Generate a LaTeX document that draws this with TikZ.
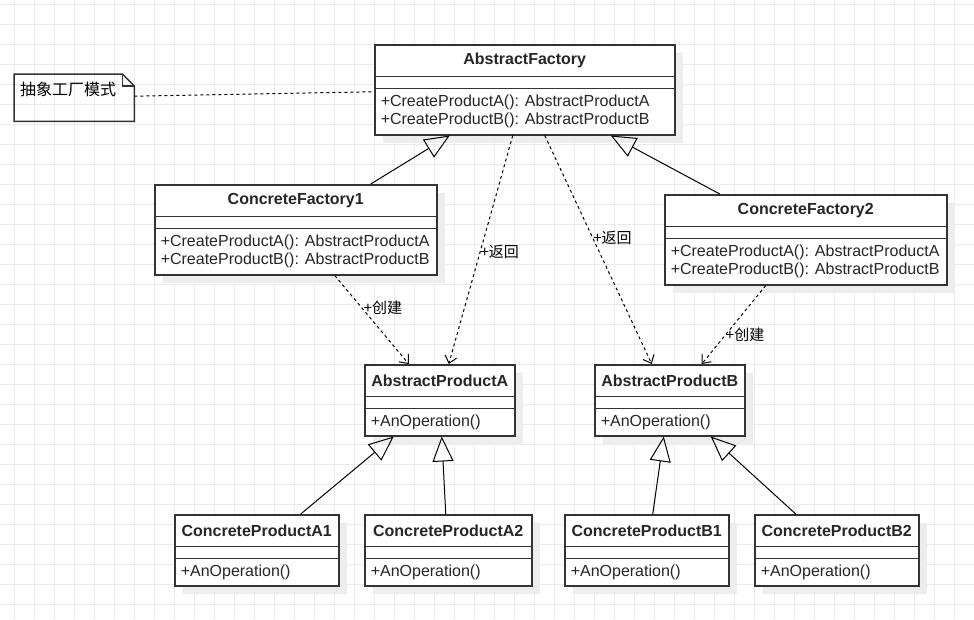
\documentclass[tikz,border=0pt]{standalone}
\usepackage{fontspec}
\setmainfont{Liberation Sans}
\newfontfamily\cjk{Noto Sans CJK SC}
\usepackage{tikz}
\usetikzlibrary{shapes.multipart,arrows.meta,shadows}

\newcommand{\umltitle}[2]{\parbox[c][30pt][c]{#1}{\centering\bfseries #2}}
\newcommand{\umlgap}[1]{\parbox[c][10.5pt]{#1}{}}
\newcommand{\umlops}[3]{\parbox[c][#2][c]{#1}{\raggedright\leftskip=6pt\relax #3}}

\tikzset{
  gridline/.style={draw=black!8, line width=0.8pt},
  umlclass/.style={rectangle split, rectangle split parts=3, draw=black!80,
    line width=1.5pt, fill=white, text=black!85, inner sep=0pt, anchor=north west,
    drop shadow={shadow xshift=8pt, shadow yshift=-8pt, fill=black!7, opacity=1}},
  notebox/.style={anchor=north west, inner xsep=6pt, inner ysep=5pt,
    text width=108pt, align=left, text height=16pt, text depth=21pt,
    font=\cjk\fontsize{16pt}{18pt}\selectfont},
  notedraw/.style={draw=black!80, line width=1.5pt},
  generalize/.style={-{Triangle[open,length=25pt,width=21pt]}, line width=1pt},
  dependency/.style={-{Straight Barb[length=7pt,width=12pt]}, line width=1pt,
    dash pattern=on 3pt off 3pt},
  lbl/.style={anchor=west, inner sep=0pt, font=\cjk\fontsize{15pt}{15pt}\selectfont}
}

\begin{document}
\begin{tikzpicture}[x=1pt,y=-1pt,font=\fontsize{16pt}{18pt}\selectfont]

% Background grid
  \fill[white] (0,0) rectangle (974,619);
  \useasboundingbox (0,0) rectangle (974,619);
  \foreach \x in {14,34,...,974} \draw[gridline] (\x,0) -- (\x,619);
  \foreach \y in {4,24,...,604} \draw[gridline] (0,\y) -- (974,\y);

% Nodes
  \node[notebox] (note) at (14,74) {抽象工厂模式};
  \node[umlclass] (af) at (374,44) {\umltitle{300pt}{AbstractFactory}\nodepart{two}\umlgap{300pt}\nodepart{three}\umlops{300pt}{45pt}{+CreateProductA(): AbstractProductA\\+CreateProductB(): AbstractProductB}};
  \node[umlclass] (cf1) at (154,184) {\umltitle{282pt}{ConcreteFactory1}\nodepart{two}\umlgap{282pt}\nodepart{three}\umlops{282pt}{45pt}{+CreateProductA(): AbstractProductA\\+CreateProductB(): AbstractProductB}};
  \node[umlclass] (cf2) at (664,194) {\umltitle{282pt}{ConcreteFactory2}\nodepart{two}\umlgap{282pt}\nodepart{three}\umlops{282pt}{45pt}{+CreateProductA(): AbstractProductA\\+CreateProductB(): AbstractProductB}};
  \node[umlclass] (apa) at (364,364) {\umltitle{150pt}{AbstractProductA}\nodepart{two}\umlgap{150pt}\nodepart{three}\umlops{150pt}{26pt}{+AnOperation()}};
  \node[umlclass] (apb) at (594,364) {\umltitle{150pt}{AbstractProductB}\nodepart{two}\umlgap{150pt}\nodepart{three}\umlops{150pt}{26pt}{+AnOperation()}};
  \node[umlclass] (pa1) at (174,514) {\umltitle{164pt}{ConcreteProductA1}\nodepart{two}\umlgap{164pt}\nodepart{three}\umlops{164pt}{26pt}{+AnOperation()}};
  \node[umlclass] (pa2) at (364,514) {\umltitle{167pt}{ConcreteProductA2}\nodepart{two}\umlgap{167pt}\nodepart{three}\umlops{167pt}{26pt}{+AnOperation()}};
  \node[umlclass] (pb1) at (564,514) {\umltitle{164pt}{ConcreteProductB1}\nodepart{two}\umlgap{164pt}\nodepart{three}\umlops{164pt}{26pt}{+AnOperation()}};
  \node[umlclass] (pb2) at (754,514) {\umltitle{164pt}{ConcreteProductB2}\nodepart{two}\umlgap{164pt}\nodepart{three}\umlops{164pt}{26pt}{+AnOperation()}};

% Note outline
  \draw[notedraw] (note.north west) -- ([xshift=-12pt]note.north east) -- ([yshift=-12pt]note.north east) -- (note.south east) -- (note.south west) -- cycle;
  \draw[notedraw] ([xshift=-12pt]note.north east) |- ([yshift=-12pt]note.north east);

% Edges
  \draw[line width=1pt, dash pattern=on 3pt off 3pt] ([yshift=1.5pt]note.east) -- ([yshift=-2pt]af.west);
  \draw[generalize] ([xshift=75pt]cf1.north) -- ([xshift=-75pt]af.south);
  \draw[generalize] ([xshift=-86pt]cf2.north) -- ([xshift=86pt]af.south);
  \draw[dependency] ([xshift=-12pt]af.south) -- node[lbl, pos=0.51] {+返回} ([xshift=9pt]apa.north);
  \draw[dependency] ([xshift=20pt]af.south) -- node[lbl, pos=0.45] {+返回} ([xshift=-18pt]apb.north);
  \draw[dependency] ([xshift=39pt]cf1.south) -- node[lbl, pos=0.36, xshift=2pt] {+创建} ([xshift=-31pt]apa.north);
  \draw[dependency] ([xshift=-40pt]cf2.south) -- node[lbl, pos=0.63] {+创建} ([xshift=32pt]apb.north);
  \draw[generalize] ([xshift=44pt]pa1.north) -- ([xshift=-46pt]apa.south);
  \draw[generalize] ([xshift=-2.5pt]pa2.north) -- ([xshift=2pt]apa.south);
  \draw[generalize] ([xshift=6pt]pb1.north) -- ([xshift=-6pt]apb.south);
  \draw[generalize] ([xshift=-41pt]pb2.north) -- ([xshift=41pt]apb.south);

\end{tikzpicture}
\end{document}
